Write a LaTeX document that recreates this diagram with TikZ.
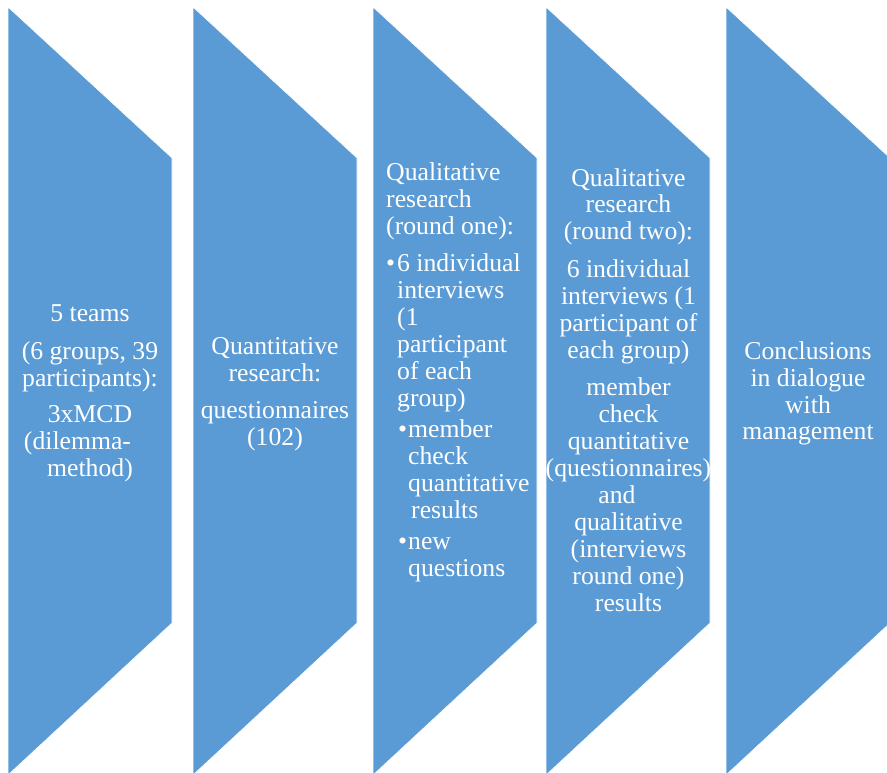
\documentclass[tikz,border=0pt]{standalone}
\usepackage{fontspec}
\setmainfont{Liberation Serif}
\definecolor{chevblue}{HTML}{5B9BD5}
\begin{document}
\begin{tikzpicture}[x=1pt,y=-1pt,
  chev/.style={fill=chevblue, draw=white, line width=0.6pt},
  steptext/.style={inner sep=0pt, text=white, font=\fontsize{25.7}{27}\selectfont}]
\useasboundingbox (0,0) rectangle (887,773);
\clip (0,0) rectangle (887,773);
% five process stages
\foreach \l in {8,193,373,546,726}
  \filldraw[chev] (\l,7) -- ++(164,151) -- ++(0,465) -- ++(-164,152) -- cycle;

% stage texts
\node[steptext, anchor=base] (t1) at (90,321) {\parbox[t]{180pt}{\centering
  5 teams\\[11pt]
  (6 groups, 39\\
  participants):\\[9pt]
  3xMCD\\
  (dilemma-\makebox[25pt]{}\\
  method)}};

\node[steptext, anchor=base] (t2) at (275,354) {\parbox[t]{180pt}{\centering
  Quantitative\\
  research:\\[10pt]
  questionnaires\\
  (102)}};

\node[steptext, anchor=base west] (t3) at (386,181) {\parbox[t]{160pt}{\raggedright
  Qualitative\\
  research\\
  (round one):\\[10pt]
  \makebox[11pt][l]{\textbullet}6 individual\\
  \hspace*{11pt}interviews\\
  \hspace*{11pt}(1\\
  \hspace*{11pt}participant\\
  \hspace*{11pt}of each\\
  \hspace*{11pt}group)\\[4pt]
  \hspace*{12pt}\makebox[10pt][l]{\textbullet}member\\
  \hspace*{22pt}check\\
  \hspace*{22pt}quantitative\\
  \hspace*{25pt}results\\[4pt]
  \hspace*{12pt}\makebox[10pt][l]{\textbullet}new\\
  \hspace*{22pt}questions}};

\node[steptext, anchor=base] (t4) at (628.5,186) {\parbox[t]{180pt}{\centering
  Qualitative\\
  research\\
  (round two):\\[11pt]
  6 individual\\
  interviews (1\\
  participant of\\
  each group)\\[10pt]
  member\\
  check\\
  quantitative\\
  (questionnaires)\\
  and\makebox[23pt]{}\\
  qualitative\\
  (interviews\\
  round one)\\
  results}};

\node[steptext, anchor=base] (t5) at (808,359) {\parbox[t]{180pt}{\centering
  Conclusions\\
  in dialogue\\
  with\\
  management}};
\end{tikzpicture}
\end{document}
